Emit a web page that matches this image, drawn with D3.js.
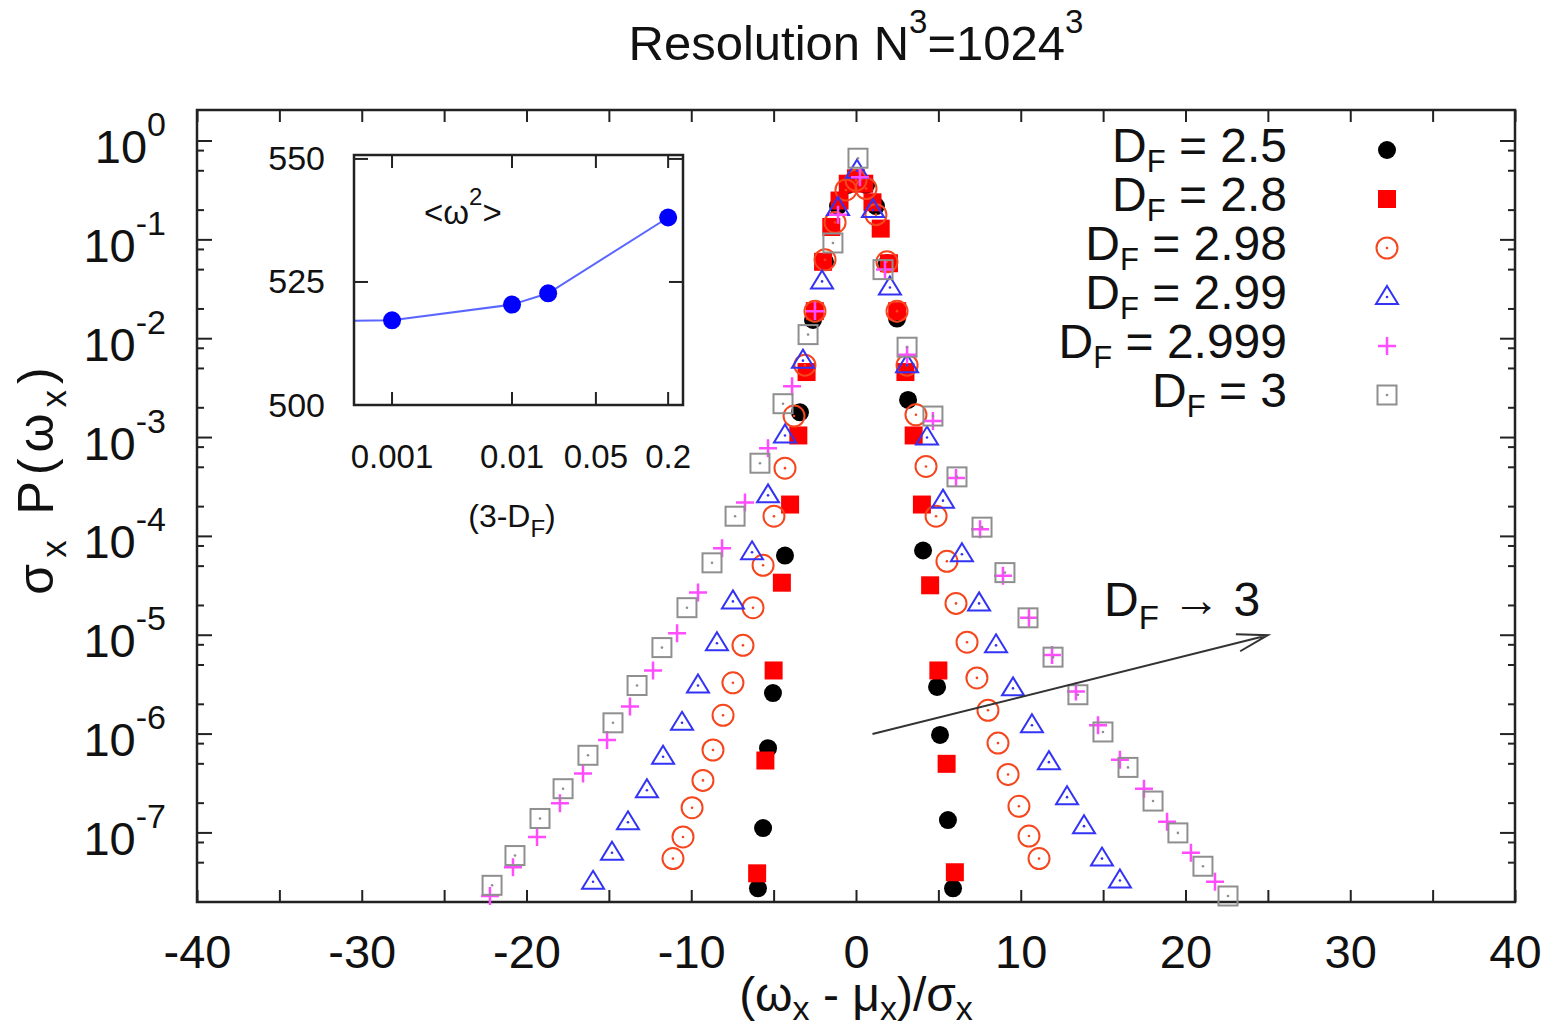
<!DOCTYPE html>
<html>
<head>
<meta charset="utf-8">
<script src="https://cdn.jsdelivr.net/npm/d3@7"></script>
<style>
  body { margin: 0; background: #fff; }
  text { font-family: "Liberation Sans", Arial, Helvetica, sans-serif; fill: #111; }
</style>
</head>
<body>
<svg id="chart" width="1546" height="1033"></svg>
<script>
// --- data ---
const dfNames = ["2.5", "2.8", "2.98", "2.99", "2.999", "3"];

const x25 = [-5.95,-5.64,-5.34,-5.04,-4.31,-3.40,-2.61,-1.88,-1.09,-0.49,0.06,0.61,1.21,1.88,2.49,3.16,4.07,4.92,5.10,5.58,5.89];
const y25 = [2.75e-8,1.12e-7,7.2e-7,2.6e-6,6.4e-5,1.8e-3,1.55e-2,6.0e-2,0.22,0.36,0.42,0.36,0.22,5.8e-2,1.6e-2,2.4e-3,7.2e-5,3.0e-6,9.8e-7,1.35e-7,2.75e-8];

const x28 = [-6.0,-5.5,-5.0,-4.5,-4.0,-3.5,-3.0,-2.5,-2.0,-1.5,-1.0,-0.5,0,0.5,1.0,1.5,2.0,2.5,3.0,3.5,4.0,4.5,5.0,5.5,6.0];
const y28 = [3.9e-8,5.4e-7,4.4e-6,3.4e-5,2.1e-4,1.05e-3,4.6e-3,1.9e-2,6.0e-2,0.135,0.25,0.37,0.42,0.37,0.24,0.13,5.8e-2,1.9e-2,4.6e-3,1.05e-3,2.1e-4,3.2e-5,4.4e-6,5.0e-7,4.0e-8];

const x298 = [-11.11,-10.50,-9.95,-9.29,-8.68,-8.07,-7.47,-6.86,-6.25,-5.64,-4.98,-4.31,-3.76,-3.10,-2.49,-1.88,-1.27,-0.61,0,0.61,1.21,1.88,2.49,3.10,3.64,4.25,4.86,5.52,6.07,6.74,7.34,8.01,8.62,9.23,9.89,10.50,11.11];
const y298 = [5.5e-8,9.1e-8,1.8e-7,3.4e-7,6.9e-7,1.55e-6,3.3e-6,7.9e-6,1.9e-5,5.1e-5,1.6e-4,4.9e-4,1.65e-3,5.4e-3,1.9e-2,6.3e-2,0.15,0.32,0.40,0.33,0.18,6.0e-2,1.9e-2,5.4e-3,1.7e-3,5.1e-4,1.6e-4,5.6e-5,2.1e-5,8.5e-6,3.7e-6,1.74e-6,8.1e-7,3.9e-7,1.86e-7,9.3e-8,5.5e-8];

const x299 = [-15.96,-14.81,-13.84,-12.69,-11.71,-10.56,-9.59,-8.44,-7.47,-6.31,-5.34,-4.31,-3.22,-2.06,-1.09,0.06,1.03,2.06,3.10,4.31,5.28,6.43,7.47,8.50,9.53,10.68,11.71,12.81,13.84,14.93,16.02];
const y299 = [3.2e-8,6.3e-8,1.28e-7,2.7e-7,5.9e-7,1.3e-6,3.1e-6,8.3e-6,2.2e-5,6.9e-5,2.6e-4,1.05e-3,6.0e-3,3.8e-2,0.21,0.50,0.20,3.3e-2,5.4e-3,1.0e-3,2.3e-4,6.6e-5,2.1e-5,7.9e-6,2.9e-6,1.23e-6,5.2e-7,2.3e-7,1.17e-7,5.5e-8,3.3e-8];

const x2999 = [-22.22,-20.82,-19.36,-17.97,-16.57,-15.11,-13.72,-12.32,-10.86,-9.59,-8.13,-6.74,-5.34,-3.88,-2.49,-1.09,0.24,1.76,3.10,4.67,6.07,7.53,8.92,10.50,11.90,13.35,14.69,16.02,17.48,18.88,20.33,21.79];
const y2999 = [2.3e-8,4.5e-8,9.1e-8,2.0e-7,4.0e-7,8.7e-7,1.9e-6,4.4e-6,1.05e-5,2.7e-5,7.6e-5,2.2e-4,7.8e-4,3.3e-3,1.9e-2,0.18,0.43,5.0e-2,6.9e-3,1.47e-3,3.9e-4,1.18e-4,4.0e-5,1.5e-5,6.3e-6,2.7e-6,1.23e-6,5.5e-7,2.8e-7,1.3e-7,6.3e-8,3.2e-8];

const x3 = [-22.09,-20.70,-19.18,-17.78,-16.27,-14.75,-13.29,-11.78,-10.26,-8.74,-7.34,-5.83,-4.43,-2.91,-1.40,0.12,1.64,3.10,4.67,6.13,7.65,9.04,10.44,11.96,13.47,14.99,16.51,18.03,19.54,21.06,22.58];
const y3 = [2.95e-8,5.9e-8,1.4e-7,2.8e-7,6.1e-7,1.3e-6,3.1e-6,7.5e-6,1.9e-5,5.4e-5,1.6e-4,5.5e-4,2.2e-3,1.1e-2,9.3e-2,0.67,5.0e-2,8.2e-3,1.65e-3,4.0e-4,1.24e-4,4.3e-5,1.5e-5,6.0e-6,2.5e-6,1.05e-6,4.6e-7,2.1e-7,1.0e-7,4.6e-8,2.3e-8];

// axes
const xTickValues = [-40,-35,-30,-25,-20,-15,-10,-5,0,5,10,15,20,25,30,35,40];
const xTickLabels = [-40,-30,-20,-10,0,10,20,30,40];
const yMajorTicks = [1,1e-1,1e-2,1e-3,1e-4,1e-5,1e-6,1e-7];
const yExponents = ["0","-1","-2","-3","-4","-5","-6","-7"];
const yMinorMantissa = [2,5,8];

// arrow "D_F -> 3"
const arrowFrom = [1, 1e-6];
const arrowTo = [25, 1e-5];

// inset <omega^2> vs (3-D_F)
const insetX = [0.0001, 0.001, 0.01, 0.02, 0.2];
const insetY = [517.0, 517.2, 520.4, 522.7, 538.1];
const insetXTicks = [0.001, 0.01, 0.05, 0.2];
const insetXTickLabels = ["0.001", "0.01", "0.05", "0.2"];
const insetYTicks = [500, 525, 550];

// --- setup ---
const svg = d3.select("#chart");
const pL = 197, pR = 1515, pT = 110, pB = 902;
const ink = "#222";

const x = d3.scaleLinear().domain([-40, 40]).range([pL, pR]);
const y = d3.scaleLog().domain([2e-8, 2.06]).range([pB, pT]);

// helper for text with sub/superscripts
function rich(sel, parts) {
  parts.forEach(p => {
    sel.append("tspan")
      .attr("font-size", p.size)
      .attr("dy", p.dy || 0)
      .text(p.t);
  });
  return sel;
}

// title
rich(svg.append("text").attr("x", 856).attr("y", 60).attr("text-anchor", "middle"), [
  {t: "Resolution N", size: 49},
  {t: "3", size: 33, dy: -27},
  {t: "=1024", size: 49, dy: 27},
  {t: "3", size: 33, dy: -27}
]);

// frame
svg.append("rect")
  .attr("x", pL).attr("y", pT)
  .attr("width", pR - pL).attr("height", pB - pT)
  .attr("fill", "none").attr("stroke", ink).attr("stroke-width", 2.5);

// x axis (ticks inward, bottom and top)
svg.append("g")
  .attr("transform", `translate(0,${pB})`)
  .call(d3.axisBottom(x).tickValues(xTickValues).tickSize(-12).tickPadding(33)
    .tickFormat(d => xTickLabels.includes(d) ? String(d) : ""))
  .call(g => g.select(".domain").remove())
  .call(g => g.selectAll("line").attr("stroke", ink).attr("stroke-width", 2))
  .call(g => g.selectAll("text").attr("font-size", 47)
    .attr("font-family", '"Liberation Sans", Arial, sans-serif').attr("fill", "#111"));

svg.append("g")
  .attr("transform", `translate(0,${pT})`)
  .call(d3.axisTop(x).tickValues(xTickValues).tickSize(-12).tickFormat(""))
  .call(g => g.select(".domain").remove())
  .call(g => g.selectAll("line").attr("stroke", ink).attr("stroke-width", 2));

// y axis: majors, minors on both sides
const yMinor = [];
for (let k = -8; k <= 0; k++) {
  yMinorMantissa.forEach(m => {
    const v = m * Math.pow(10, k);
    if (v > 2.01e-8 && v < 2.0) yMinor.push(v);
  });
}

const yt = svg.append("g").attr("stroke", ink).attr("stroke-width", 2);
yMajorTicks.forEach(v => {
  yt.append("line").attr("x1", pL).attr("x2", pL + 15).attr("y1", y(v)).attr("y2", y(v));
  yt.append("line").attr("x1", pR).attr("x2", pR - 15).attr("y1", y(v)).attr("y2", y(v));
});
yMinor.forEach(v => {
  yt.append("line").attr("x1", pL).attr("x2", pL + 7).attr("y1", y(v)).attr("y2", y(v));
  yt.append("line").attr("x1", pR).attr("x2", pR - 7).attr("y1", y(v)).attr("y2", y(v));
});

yMajorTicks.forEach((v, i) => {
  rich(svg.append("text").attr("x", 166).attr("y", y(v) + 22).attr("text-anchor", "end"), [
    {t: "10", size: 47},
    {t: yExponents[i], size: 34, dy: -27}
  ]);
});

// axis titles
rich(svg.append("text").attr("x", 856).attr("y", 1011).attr("text-anchor", "middle"), [
  {t: "(ω", size: 48},
  {t: "x", size: 34, dy: 9},
  {t: " - μ", size: 48, dy: -9},
  {t: "x", size: 34, dy: 9},
  {t: ")/σ", size: 48, dy: -9},
  {t: "x", size: 34, dy: 9}
]);

rich(svg.append("text").attr("text-anchor", "middle").attr("letter-spacing", 6)
  .attr("transform", "translate(53,478) rotate(-90)"), [
  {t: "σ", size: 50},
  {t: "x", size: 35, dy: 13},
  {t: " P(ω", size: 50, dy: -13},
  {t: "x", size: 35, dy: 13},
  {t: ")", size: 50, dy: -13}
]);

// --- markers ---
const styles = [
  {xs: x25,   ys: y25,   kind: "fcircle", color: "#000000"},
  {xs: x28,   ys: y28,   kind: "fsquare", color: "#ff0000"},
  {xs: x298,  ys: y298,  kind: "ocircle", color: "#f5461e"},
  {xs: x299,  ys: y299,  kind: "otri",    color: "#3333f5"},
  {xs: x2999, ys: y2999, kind: "plus",    color: "#ff4cff"},
  {xs: x3,    ys: y3,    kind: "osquare", color: "#8f8f8f"}
];

function marker(g, kind, color) {
  if (kind === "fcircle") {
    g.append("circle").attr("r", 9).attr("fill", color);
  } else if (kind === "fsquare") {
    g.append("rect").attr("x", -9).attr("y", -9).attr("width", 18).attr("height", 18).attr("fill", color);
  } else if (kind === "ocircle") {
    g.append("circle").attr("r", 10.5).attr("fill", "none").attr("stroke", color).attr("stroke-width", 2);
    g.append("circle").attr("r", 1.3).attr("fill", color);
  } else if (kind === "otri") {
    g.append("path").attr("d", "M0,-11L11,7L-11,7Z").attr("fill", "none")
      .attr("stroke", color).attr("stroke-width", 2).attr("stroke-linejoin", "miter");
    g.append("circle").attr("r", 1.3).attr("fill", color);
  } else if (kind === "plus") {
    g.append("path").attr("d", "M-9,0H9M0,-9V9").attr("fill", "none")
      .attr("stroke", color).attr("stroke-width", 2.5);
  } else if (kind === "osquare") {
    g.append("rect").attr("x", -9.5).attr("y", -9.5).attr("width", 19).attr("height", 19)
      .attr("fill", "none").attr("stroke", color).attr("stroke-width", 2);
    g.append("circle").attr("r", 1.3).attr("fill", color);
  }
}

styles.forEach(s => {
  const pts = s.xs.map((v, i) => [v, s.ys[i]]);
  svg.append("g").selectAll("g")
    .data(pts)
    .join("g")
    .attr("transform", d => `translate(${x(d[0])},${y(d[1])})`)
    .each(function () { marker(d3.select(this), s.kind, s.color); });
});

// legend
dfNames.forEach((name, i) => {
  const base = 162 + 49 * i;
  rich(svg.append("text").attr("x", 1287).attr("y", base).attr("text-anchor", "end"), [
    {t: "D", size: 48},
    {t: "F", size: 31, dy: 10},
    {t: " = " + name, size: 48, dy: -10}
  ]);
  const g = svg.append("g").attr("transform", `translate(1387,${base - 12})`);
  marker(g, styles[i].kind, styles[i].color);
});

// arrow annotation
const ax1 = x(arrowFrom[0]), ay1 = y(arrowFrom[1]);
const ax2 = x(arrowTo[0]), ay2 = y(arrowTo[1]);
const ang = Math.atan2(ay2 - ay1, ax2 - ax1);
const headLen = 32, headAng = 16 * Math.PI / 180;
svg.append("path")
  .attr("d", `M${ax1},${ay1}L${ax2},${ay2}` +
    `M${ax2 - headLen * Math.cos(ang - headAng)},${ay2 - headLen * Math.sin(ang - headAng)}L${ax2},${ay2}` +
    `L${ax2 - headLen * Math.cos(ang + headAng)},${ay2 - headLen * Math.sin(ang + headAng)}`)
  .attr("fill", "none").attr("stroke", "#333").attr("stroke-width", 2);

rich(svg.append("text").attr("x", 1104).attr("y", 616), [
  {t: "D", size: 48},
  {t: "F", size: 33, dy: 13},
  {t: " → 3", size: 48, dy: -13}
]);

// --- inset ---
const iL = 354, iR = 683, iT = 155, iB = 405;
const ix = d3.scaleLog().domain([4.82e-4, 0.266]).range([iL, iR]);
const iy = d3.scaleLinear().domain([500, 550.8]).range([iB, iT]);

svg.append("defs").append("clipPath").attr("id", "insetClip")
  .append("rect").attr("x", iL).attr("y", iT).attr("width", iR - iL).attr("height", iB - iT);

svg.append("rect").attr("x", iL).attr("y", iT).attr("width", iR - iL).attr("height", iB - iT)
  .attr("fill", "#fff");

const inset = svg.append("g");
const ipts = insetX.map((v, i) => [v, insetY[i]]);
inset.append("path")
  .attr("clip-path", "url(#insetClip)")
  .attr("d", d3.line().x(d => ix(d[0])).y(d => iy(d[1]))(ipts))
  .attr("fill", "none").attr("stroke", "#5a66ff").attr("stroke-width", 2);

inset.append("g").attr("clip-path", "url(#insetClip)")
  .selectAll("circle").data(ipts).join("circle")
  .attr("cx", d => ix(d[0])).attr("cy", d => iy(d[1])).attr("r", 9).attr("fill", "#0000ff");

const it = inset.append("g").attr("stroke", ink).attr("stroke-width", 2);
insetXTicks.forEach(v => {
  it.append("line").attr("x1", ix(v)).attr("x2", ix(v)).attr("y1", iB).attr("y2", iB - 13);
  it.append("line").attr("x1", ix(v)).attr("x2", ix(v)).attr("y1", iT).attr("y2", iT + 13);
});
insetYTicks.forEach(v => {
  it.append("line").attr("x1", iL).attr("x2", iL + 14).attr("y1", iy(v)).attr("y2", iy(v));
  it.append("line").attr("x1", iR).attr("x2", iR - 14).attr("y1", iy(v)).attr("y2", iy(v));
});

inset.append("rect").attr("x", iL).attr("y", iT).attr("width", iR - iL).attr("height", iB - iT)
  .attr("fill", "none").attr("stroke", ink).attr("stroke-width", 2.5);

insetYTicks.forEach(v => {
  inset.append("text").attr("x", 325).attr("y", iy(v) + 11.5).attr("text-anchor", "end")
    .attr("font-size", 34).text(v);
});
insetXTicks.forEach((v, i) => {
  inset.append("text").attr("x", ix(v)).attr("y", 468).attr("text-anchor", "middle")
    .attr("font-size", 33).text(insetXTickLabels[i]);
});

rich(inset.append("text").attr("x", 424).attr("y", 224), [
  {t: "<ω", size: 33},
  {t: "2", size: 24, dy: -19},
  {t: ">", size: 33, dy: 19}
]);

rich(inset.append("text").attr("x", 512).attr("y", 527).attr("text-anchor", "middle"), [
  {t: "(3-D", size: 32},
  {t: "F", size: 24, dy: 10},
  {t: ")", size: 32, dy: -10}
]);
</script>
</body>
</html>
